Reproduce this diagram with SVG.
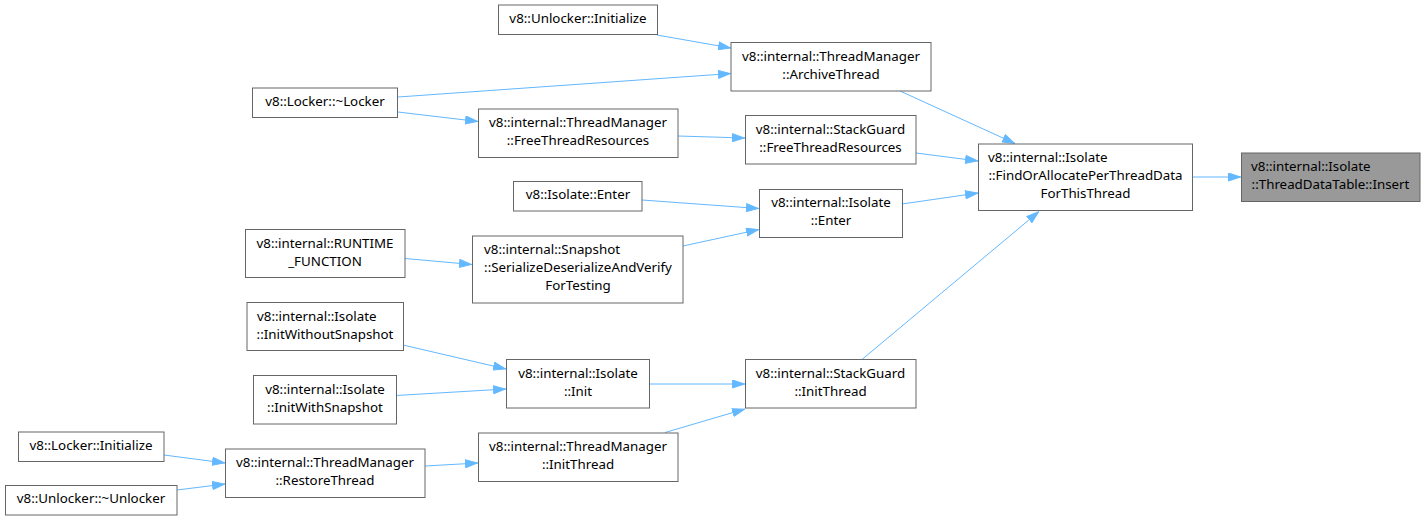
<svg xmlns="http://www.w3.org/2000/svg" width="1426" height="520" viewBox="0 0 1426 520">
<style>
.n rect{fill:#ffffff;stroke:#666666;stroke-width:1}
.n.hl rect{fill:#999999}
.n text{font-family:"Noto Sans","DejaVu Sans",sans-serif;font-size:13.33px;fill:#000000}
.c{text-anchor:middle}
.e line{stroke:#63b8ff;stroke-width:1;fill:none}
</style>
<defs>
<marker id="ah" viewBox="0 0 13 9" refX="13" refY="4.5" markerWidth="13" markerHeight="9" markerUnits="userSpaceOnUse" orient="auto">
<path d="M0.5,0.5 L12.5,4.5 L0.5,8.5 z" fill="#63b8ff" stroke="#63b8ff" stroke-width="1"/>
</marker>
</defs>
<rect width="1426" height="520" fill="#ffffff"/>
<g class="e">
<line x1="1192.5" y1="177" x2="1241" y2="177" marker-end="url(#ah)"/>
<line x1="900" y1="91" x2="1015" y2="143.5" marker-end="url(#ah)"/>
<line x1="916" y1="153" x2="978" y2="161" marker-end="url(#ah)"/>
<line x1="902" y1="204" x2="978" y2="193" marker-end="url(#ah)"/>
<line x1="862" y1="359.5" x2="1039" y2="211.5" marker-end="url(#ah)"/>
<line x1="657" y1="35" x2="731" y2="48" marker-end="url(#ah)"/>
<line x1="398" y1="97" x2="731" y2="73.5" marker-end="url(#ah)"/>
<line x1="398" y1="112" x2="478" y2="121.5" marker-end="url(#ah)"/>
<line x1="678" y1="136" x2="745" y2="138" marker-end="url(#ah)"/>
<line x1="642" y1="200" x2="759" y2="208.5" marker-end="url(#ah)"/>
<line x1="683" y1="246" x2="759" y2="229.5" marker-end="url(#ah)"/>
<line x1="405" y1="258.5" x2="472" y2="264.5" marker-end="url(#ah)"/>
<line x1="403" y1="345" x2="506" y2="369" marker-end="url(#ah)"/>
<line x1="396" y1="395.5" x2="506" y2="389" marker-end="url(#ah)"/>
<line x1="649" y1="384" x2="745" y2="384" marker-end="url(#ah)"/>
<line x1="665" y1="432.5" x2="745" y2="409" marker-end="url(#ah)"/>
<line x1="164" y1="455" x2="225" y2="463" marker-end="url(#ah)"/>
<line x1="177" y1="490" x2="225" y2="484" marker-end="url(#ah)"/>
<line x1="425" y1="466" x2="478" y2="463" marker-end="url(#ah)"/>
</g>
<g id="insert" class="n hl"><rect x="1241.5" y="153" width="178.5" height="48.5"/><text x="1251" y="171">v8::internal::Isolate</text><text class="c" x="1330.5" y="189">::ThreadDataTable::Insert</text></g>
<g id="findoralloc" class="n"><rect x="978.5" y="144" width="214" height="66.5"/><text x="988" y="162">v8::internal::Isolate</text><text class="c" x="1085.5" y="180">::FindOrAllocatePerThreadData</text><text class="c" x="1085.5" y="198">ForThisThread</text></g>
<g id="unlocker_init" class="n"><rect x="498.5" y="5" width="159" height="29.5"/><text class="c" x="578" y="22.5">v8::Unlocker::Initialize</text></g>
<g id="archive" class="n"><rect x="731" y="42.5" width="200" height="48.5"/><text class="c" x="831" y="60.5">v8::internal::ThreadManager</text><text class="c" x="831" y="78.5">::ArchiveThread</text></g>
<g id="locker_dtor" class="n"><rect x="252.5" y="88" width="145" height="29.5"/><text class="c" x="325" y="105.5">v8::Locker::~Locker</text></g>
<g id="tm_free" class="n"><rect x="478.5" y="109" width="199.5" height="48.5"/><text class="c" x="578" y="127">v8::internal::ThreadManager</text><text class="c" x="578" y="145">::FreeThreadResources</text></g>
<g id="sg_free" class="n"><rect x="745.5" y="115.5" width="170.5" height="48.5"/><text class="c" x="830.5" y="133.5">v8::internal::StackGuard</text><text class="c" x="830.5" y="151.5">::FreeThreadResources</text></g>
<g id="isolate_enter" class="n"><rect x="513.5" y="181.5" width="128.5" height="29.5"/><text class="c" x="578" y="199">v8::Isolate::Enter</text></g>
<g id="int_enter" class="n"><rect x="759.5" y="189.5" width="143" height="48"/><text class="c" x="831" y="207">v8::internal::Isolate</text><text class="c" x="831" y="225">::Enter</text></g>
<g id="runtime" class="n"><rect x="245.5" y="229.5" width="159.5" height="48"/><text class="c" x="325" y="247.5">v8::internal::RUNTIME</text><text class="c" x="325" y="265.5">_FUNCTION</text></g>
<g id="snapshot" class="n"><rect x="472.5" y="236" width="210.5" height="67"/><text x="484" y="254">v8::internal::Snapshot</text><text class="c" x="578" y="272">::SerializeDeserializeAndVerify</text><text class="c" x="578" y="290">ForTesting</text></g>
<g id="init_wo" class="n"><rect x="247" y="302.5" width="156.5" height="48"/><text x="257" y="320.5">v8::internal::Isolate</text><text class="c" x="325" y="338.5">::InitWithoutSnapshot</text></g>
<g id="init_w" class="n"><rect x="253.5" y="375.5" width="143" height="48.5"/><text class="c" x="325" y="393.5">v8::internal::Isolate</text><text class="c" x="325" y="411.5">::InitWithSnapshot</text></g>
<g id="isolate_init" class="n"><rect x="506.5" y="359.5" width="143" height="48.5"/><text class="c" x="578" y="377.5">v8::internal::Isolate</text><text class="c" x="578" y="395.5">::Init</text></g>
<g id="sg_init" class="n"><rect x="745.5" y="359.5" width="170.5" height="48.5"/><text class="c" x="830.5" y="377.5">v8::internal::StackGuard</text><text class="c" x="830.5" y="395.5">::InitThread</text></g>
<g id="tm_init" class="n"><rect x="478.5" y="433" width="199.5" height="48.5"/><text class="c" x="578" y="451">v8::internal::ThreadManager</text><text class="c" x="578" y="469">::InitThread</text></g>
<g id="locker_init" class="n"><rect x="18.5" y="432" width="145.5" height="29.5"/><text class="c" x="91" y="449.5">v8::Locker::Initialize</text></g>
<g id="restore" class="n"><rect x="225.5" y="449" width="199.5" height="48.5"/><text class="c" x="325" y="467">v8::internal::ThreadManager</text><text class="c" x="325" y="485">::RestoreThread</text></g>
<g id="unlocker_dtor" class="n"><rect x="5.5" y="485.5" width="171.5" height="29.5"/><text class="c" x="91" y="503">v8::Unlocker::~Unlocker</text></g>
</svg>
